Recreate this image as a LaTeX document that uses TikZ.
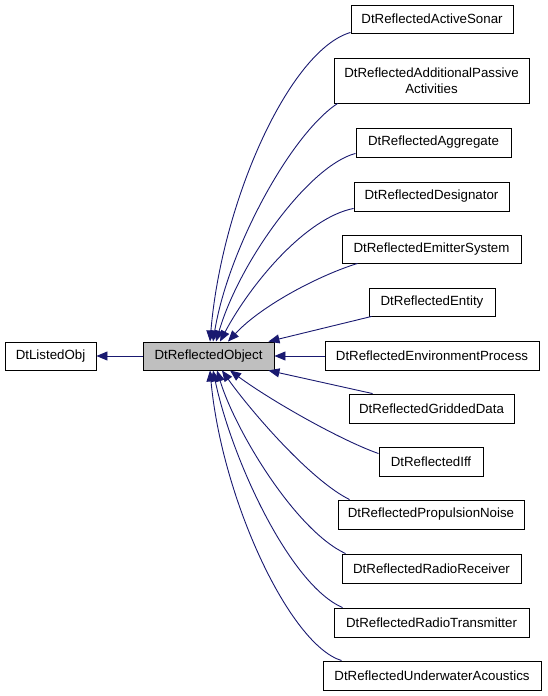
\documentclass[tikz,border=0pt]{standalone}
\usepackage{fontspec}
\setmainfont{Liberation Sans}
\usetikzlibrary{arrows.meta}
\definecolor{edgeblue}{RGB}{25,25,112}
\definecolor{basegray}{RGB}{191,191,191}
\begin{document}
\begin{tikzpicture}[x=1pt,y=-1pt,
  box/.style={draw=black,line width=0.9pt,fill=white,inner sep=0pt,align=center,
    font=\fontsize{13.3}{16}\selectfont},
  edge/.style={draw=edgeblue,line width=0.9pt,-{Triangle[length=11pt,width=9pt]}}]
\useasboundingbox (0,0) rectangle (547,696);
\node[box,minimum width=91pt,minimum height=28pt] (lo) at (50.5,356) {DtListedObj};
\node[box,fill=basegray,minimum width=131pt,minimum height=28pt] (ro) at (208.5,356) {DtReflectedObject};
\node[box,minimum width=162pt,minimum height=28pt] (as) at (432,19) {DtReflectedActiveSonar};
\node[box,minimum width=195pt,minimum height=45pt] (ap) at (431.5,80.5) {DtReflectedAdditionalPassive\\Activities};
\node[box,minimum width=155pt,minimum height=29pt] (ag) at (433.5,142.5) {DtReflectedAggregate};
\node[box,minimum width=155pt,minimum height=29pt] (de) at (431.5,196.5) {DtReflectedDesignator};
\node[box,minimum width=179pt,minimum height=28pt] (em) at (431.5,249) {DtReflectedEmitterSystem};
\node[box,minimum width=126pt,minimum height=28pt] (en) at (432,302) {DtReflectedEntity};
\node[box,minimum width=214pt,minimum height=29pt] (ep) at (432,356) {DtReflectedEnvironmentProcess};
\node[box,minimum width=165pt,minimum height=29pt] (gd) at (431.5,408.5) {DtReflectedGriddedData};
\node[box,minimum width=104pt,minimum height=29pt] (iff) at (431,461.5) {DtReflectedIff};
\node[box,minimum width=186pt,minimum height=29pt] (pn) at (431,514.5) {DtReflectedPropulsionNoise};
\node[box,minimum width=179pt,minimum height=29pt] (rr) at (431.5,568.5) {DtReflectedRadioReceiver};
\node[box,minimum width=195pt,minimum height=29pt] (rt) at (431.5,622.5) {DtReflectedRadioTransmitter};
\node[box,minimum width=218pt,minimum height=29pt] (ua) at (432,675.5) {DtReflectedUnderwaterAcoustics};

\draw[edge] (ro.west) -- (lo.east);
\draw[edge] ([yshift=1pt]as.south west) .. controls (290,50) and (222,200) .. ([xshift=1.5pt]ro.north);
\draw[edge] ([xshift=4pt]ap.south west) .. controls (290,135) and (228,250) .. ([xshift=4.5pt]ro.north);
\draw[edge] ([yshift=4pt]ag.south west) .. controls (310,165) and (240,260) .. ([xshift=7.5pt]ro.north);
\draw[edge] ([yshift=3pt]de.south west) .. controls (305,218) and (250,285) .. ([xshift=11.5pt]ro.north);
\draw[edge] ([xshift=16pt]em.south west) .. controls (320,275) and (262,305) .. ([xshift=19.5pt]ro.north);
\draw[edge] ([xshift=3pt]en.south west) -- ([xshift=-6pt]ro.north east);
\draw[edge] (ep.west) -- (ro.east);
\draw[edge] ([xshift=24pt]gd.north west) -- ([xshift=-6pt]ro.south east);
\draw[edge] ([yshift=-7pt]iff.north west) .. controls (340,440) and (270,400) .. ([xshift=21.5pt]ro.south);
\draw[edge] ([xshift=12pt]pn.north west) .. controls (310,480) and (250,410) .. ([xshift=13.5pt]ro.south);
\draw[edge] ([xshift=4pt]rr.north west) .. controls (295,530) and (235,430) .. ([xshift=8.5pt]ro.south);
\draw[edge] ([xshift=9pt]rt.north west) .. controls (290,585) and (232,460) .. ([xshift=4.5pt]ro.south);
\draw[edge] ([xshift=19pt]ua.north west) .. controls (290,645) and (222,500) .. ([xshift=1.5pt]ro.south);
\end{tikzpicture}
\end{document}
